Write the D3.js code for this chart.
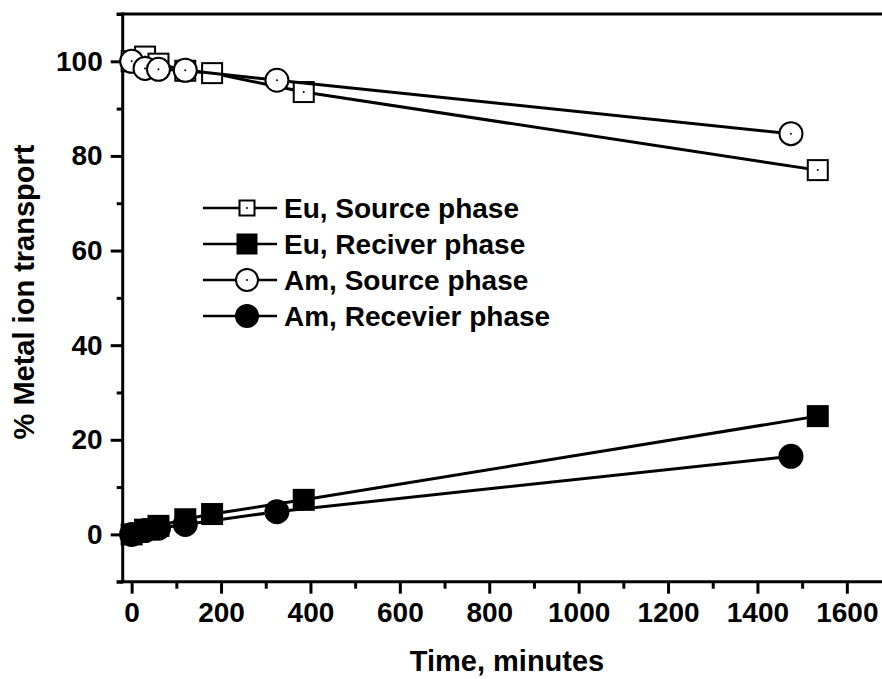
<!DOCTYPE html>
<meta charset="utf-8">
<script src="https://d3js.org/d3.v7.min.js"></script>
<style>
  body { margin: 0; background: #fff; }
  text { font-family: "Liberation Sans", Arial, sans-serif; font-weight: bold; }
</style>
<div id="my_dataviz"></div>
<script>
    // data: [minutes, % transport]
    const euSource = [[0, 100], [30, 101], [60, 99.5], [120, 98], [180, 97.5], [385, 93.5], [1535, 77]];
    const euReceiver = [[0, 0], [30, 1], [60, 1.8], [120, 3.2], [180, 4.3], [385, 7.3], [1535, 25]];
    const amSource = [[0, 100], [30, 98.5], [60, 98.3], [120, 98.1], [325, 96], [1475, 84.7]];
    const amReceiver = [[0, 0], [30, 0.8], [60, 1.3], [120, 2.1], [325, 4.8], [1475, 16.5]];

    const seriesNames = ["Eu, Source phase", "Eu, Reciver phase", "Am, Source phase", "Am, Recevier phase"];
    const xTickValues = [0, 200, 400, 600, 800, 1000, 1200, 1400, 1600];
    const yTickValues = [0, 20, 40, 60, 80, 100];

    const width = 882;
    const height = 679;

    const svg = d3.select("#my_dataviz")
        .append("svg")
        .attr("width", width)
        .attr("height", height);

    const x = d3.scaleLinear().domain([-20, 1700]).range([122.7, 122.7 + 1720 * 0.447]);
    const y = d3.scaleLinear().domain([-10, 110]).range([581.7, 14]);

    // bottom axis: minor then major ticks
    svg.append("g")
        .attr("transform", `translate(0,${y(-10)})`)
        .call(d3.axisBottom(x).tickValues(d3.range(100, 1701, 200)).tickSize(7).tickFormat(""))
        .call(g => g.select(".domain").remove())
        .call(g => g.selectAll("line").attr("stroke-width", 3));
    svg.append("g")
        .attr("transform", `translate(0,${y(-10)})`)
        .call(d3.axisBottom(x).tickValues(xTickValues).tickSize(12).tickSizeOuter(0).tickPadding(8).tickFormat(d3.format("d")))
        .call(g => g.select(".domain").attr("stroke-width", 3).attr("d", `M${x(-20) - 6},0H${width}`))
        .call(g => g.selectAll("line").attr("stroke-width", 3))
        .call(g => g.selectAll("text").attr("font-size", 28).attr("fill", "#000"));

    // left axis
    svg.append("g")
        .attr("transform", `translate(${x(-20)},0)`)
        .call(d3.axisLeft(y).tickValues(d3.range(-10, 111, 20)).tickSize(6).tickFormat(""))
        .call(g => g.select(".domain").remove())
        .call(g => g.selectAll("line").attr("stroke-width", 3));
    svg.append("g")
        .attr("transform", `translate(${x(-20)},0)`)
        .call(d3.axisLeft(y).tickValues(yTickValues).tickSize(12).tickSizeOuter(0).tickPadding(8))
        .call(g => g.select(".domain").attr("stroke-width", 3).attr("d", `M0,${y(110) - 1.5}V${y(-10) + 1.5}`))
        .call(g => g.selectAll("line").attr("stroke-width", 3))
        .call(g => g.selectAll("text").attr("font-size", 28).attr("fill", "#000"));

    // top frame line
    svg.append("line")
        .attr("x1", x(-20) - 6).attr("x2", width)
        .attr("y1", y(110)).attr("y2", y(110))
        .attr("stroke", "#000").attr("stroke-width", 3);

    // axis titles
    svg.append("text")
        .attr("x", 507).attr("y", 671)
        .attr("text-anchor", "middle")
        .attr("font-size", 29)
        .text("Time, minutes");
    svg.append("text")
        .attr("transform", "translate(34,292) rotate(-90)")
        .attr("text-anchor", "middle")
        .attr("font-size", 29)
        .text("% Metal ion transport");

    const line = d3.line().x(d => x(d[0])).y(d => y(d[1]));

    function drawMarker(g, shape, filled, size) {
        const h = size / 2;
        if (shape === "square") {
            g.append("rect")
                .attr("x", -h).attr("y", -h).attr("width", size).attr("height", size)
                .attr("fill", filled ? "#000" : "#fff")
                .attr("stroke", "#000").attr("stroke-width", 2);
        } else {
            g.append("circle")
                .attr("r", h + 1.5)
                .attr("fill", filled ? "#000" : "#fff")
                .attr("stroke", "#000").attr("stroke-width", 2);
        }
        if (!filled) g.append("circle").attr("r", 1).attr("fill", "#000");
    }

    const series = [
        { name: seriesNames[0], data: euSource, shape: "square", filled: false },
        { name: seriesNames[1], data: euReceiver, shape: "square", filled: true },
        { name: seriesNames[2], data: amSource, shape: "circle", filled: false },
        { name: seriesNames[3], data: amReceiver, shape: "circle", filled: true },
    ];

    series.forEach(function (s) {
        svg.append("path")
            .datum(s.data)
            .attr("fill", "none")
            .attr("stroke", "#000")
            .attr("stroke-width", 3)
            .attr("d", line);
        svg.append("g")
            .selectAll("g")
            .data(s.data)
            .join("g")
            .attr("transform", d => `translate(${x(d[0])},${y(d[1])})`)
            .each(function () { drawMarker(d3.select(this), s.shape, s.filled, 20); });
    });

    // legend
    const legend = svg.append("g").attr("transform", "translate(203,208)");
    series.forEach(function (s, i) {
        const row = legend.append("g").attr("transform", `translate(0,${i * 36})`);
        row.append("line").attr("x1", 0).attr("x2", 74).attr("stroke", "#000").attr("stroke-width", 2.5);
        const sz = s.shape === "square" && !s.filled ? 15 : 19;
        drawMarker(row.append("g").attr("transform", "translate(44,0)"), s.shape, s.filled, sz);
        row.append("text")
            .attr("x", 81).attr("dy", "0.36em")
            .attr("font-size", 28)
            .text(s.name);
    });
</script>
